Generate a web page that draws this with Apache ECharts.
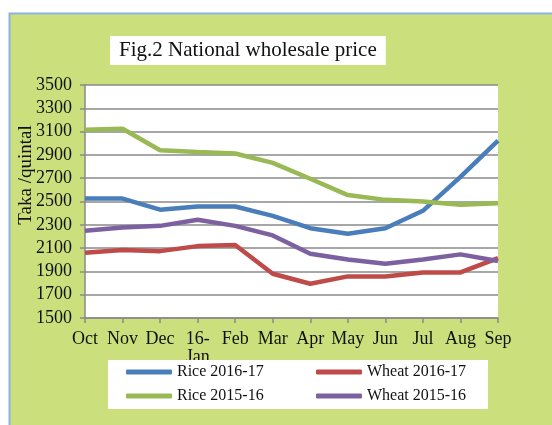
<!DOCTYPE html>
<html>
<head>
<meta charset="utf-8">
<script src="https://cdn.jsdelivr.net/npm/echarts@6/dist/echarts.min.js"></script>
<style>
  html, body { margin: 0; padding: 0; background: #fff; }
  #chart { width: 552px; height: 425px; }
</style>
</head>
<body>
<div id="chart"></div>
<script>
// 月份（横轴）
const months = ['Oct', 'Nov', 'Dec', '16-\nJan', 'Feb', 'Mar', 'Apr', 'May', 'Jun', 'Jul', 'Aug', 'Sep']

// 各系列价格 (Taka/quintal)
const rice1617 = [2525, 2525, 2430, 2457, 2457, 2377, 2271, 2223, 2271, 2420, 2711, 3023]
const wheat1617 = [2060, 2083, 2074, 2117, 2126, 1880, 1794, 1857, 1857, 1891, 1891, 2014]
const rice1516 = [3115, 3125, 2940, 2925, 2912, 2831, 2695, 2555, 2514, 2500, 2472, 2486]
const wheat1516 = [2249, 2277, 2291, 2343, 2291, 2209, 2051, 2003, 1966, 2003, 2046, 1989]

const chart = echarts.init(document.getElementById('chart'))

const serif = 'Liberation Serif'
const gridColor = '#8a8a8a'

const makeLine = (name, data, color) => ({
  name,
  type: 'line',
  data,
  symbol: 'none',
  lineStyle: { width: 4.5, color },
  itemStyle: { color },
  z: 3
})

const legendBase = {
  orient: 'vertical',
  icon: 'roundRect',
  itemWidth: 46,
  itemHeight: 5,
  itemGap: 8,
  padding: 0,
  z: 60,
  textStyle: { fontFamily: serif, fontSize: 16, color: '#111' }
}

const option = {
  animation: false,
  title: {
    text: 'Fig.2 National wholesale price',
    left: 110,
    top: 36,
    padding: [4, 9, 4, 9],
    backgroundColor: '#fff',
    textStyle: { fontFamily: serif, fontSize: 21, fontWeight: 'normal', color: '#111' }
  },
  grid: {
    left: 85,
    top: 85,
    right: 54,
    bottom: 107,
    show: true,
    backgroundColor: '#fff',
    borderWidth: 0
  },
  graphic: [
    {
      type: 'rect',
      z: -10,
      shape: { x: 9.5, y: 13.5, width: 560, height: 420 },
      style: { fill: '#cbdf7c', stroke: '#8db3e2', lineWidth: 2 }
    },
    {
      type: 'rect',
      z: 50,
      shape: { x: 108, y: 360, width: 380, height: 49 },
      style: { fill: '#fff' }
    },
    {
      type: 'text',
      z: 5,
      x: 26,
      y: 175,
      rotation: Math.PI / 2,
      style: {
        text: 'Taka /quintal',
        fontFamily: serif,
        fontSize: 19,
        fill: '#111',
        align: 'center',
        verticalAlign: 'middle'
      }
    }
  ],
  legend: [
    Object.assign({}, legendBase, { left: 126, top: 364, data: ['Rice 2016-17', 'Rice 2015-16'] }),
    Object.assign({}, legendBase, { left: 316, top: 364, data: ['Wheat 2016-17', 'Wheat 2015-16'] })
  ],
  xAxis: {
    type: 'category',
    data: months,
    boundaryGap: false,
    axisLine: { lineStyle: { color: gridColor, width: 1.5 } },
    axisTick: { show: true, length: 5, lineStyle: { color: gridColor, width: 1.5 } },
    axisLabel: {
      fontFamily: serif,
      fontSize: 18,
      color: '#111',
      margin: 12,
      lineHeight: 18,
      interval: 0
    }
  },
  yAxis: {
    type: 'value',
    min: 1500,
    max: 3500,
    interval: 200,
    axisLine: { show: true, lineStyle: { color: gridColor, width: 1.5 } },
    axisTick: { show: true, length: 5, lineStyle: { color: gridColor, width: 1.5 } },
    splitLine: { lineStyle: { color: gridColor, width: 1.5 } },
    axisLabel: {
      fontFamily: serif,
      fontSize: 18,
      color: '#111',
      margin: 13,
      formatter: (v) => String(v)
    }
  },
  series: [
    makeLine('Rice 2016-17', rice1617, '#4a7ebb'),
    makeLine('Wheat 2016-17', wheat1617, '#be4b48'),
    makeLine('Rice 2015-16', rice1516, '#98b954'),
    makeLine('Wheat 2015-16', wheat1516, '#7d60a0')
  ]
}

chart.setOption(option)
</script>
</body>
</html>
